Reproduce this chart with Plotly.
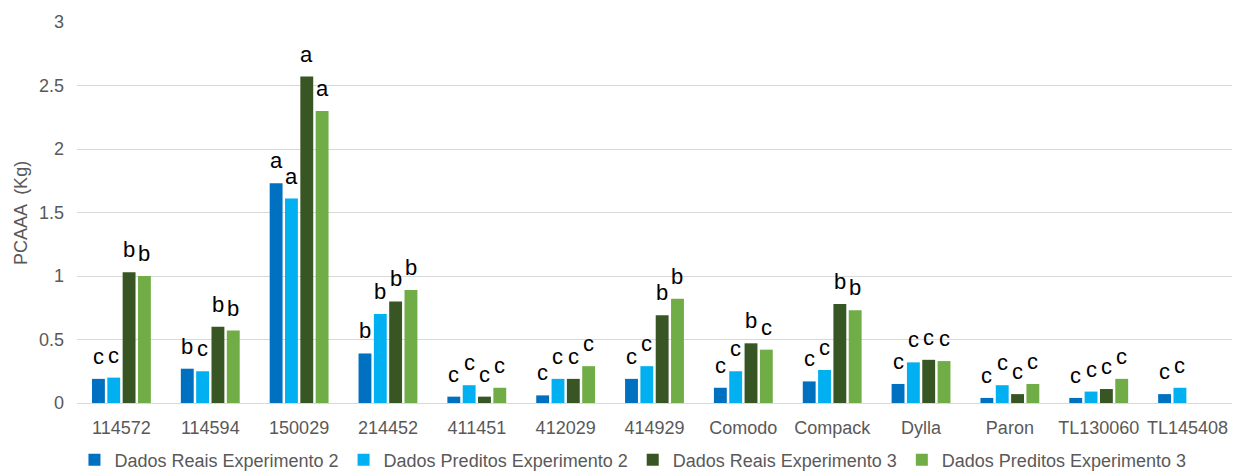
import plotly.graph_objects as go

# Genótipos avaliados
genotipos = ["114572", "114594", "150029", "214452", "411451", "412029", "414929",
             "Comodo", "Compack", "Dylla", "Paron", "TL130060", "TL145408"]

# PCAAA (Kg) por série
reais_exp2 = [0.19, 0.27, 1.73, 0.39, 0.05, 0.06, 0.19, 0.12, 0.17, 0.15, 0.04, 0.04, 0.07]
preditos_exp2 = [0.20, 0.25, 1.61, 0.70, 0.14, 0.19, 0.29, 0.25, 0.26, 0.32, 0.14, 0.09, 0.12]
reais_exp3 = [1.03, 0.60, 2.57, 0.80, 0.05, 0.19, 0.69, 0.47, 0.78, 0.34, 0.07, 0.11, None]
preditos_exp3 = [1.00, 0.57, 2.30, 0.89, 0.12, 0.29, 0.82, 0.42, 0.73, 0.33, 0.15, 0.19, None]

# Letras do teste de médias
letras_reais_exp2 = ["c", "b", "a", "b", "c", "c", "c", "c", "c", "c", "c", "c", "c"]
letras_preditos_exp2 = ["c", "c", "a", "b", "c", "c", "c", "c", "c", "c", "c", "c", "c"]
letras_reais_exp3 = ["b", "b", "a", "b", "c", "c", "b", "b", "b", "c", "c", "c", ""]
letras_preditos_exp3 = ["b", "b", "a", "b", "c", "c", "b", "c", "b", "c", "c", "c", ""]

y_ticks = [0, 0.5, 1, 1.5, 2, 2.5, 3]
y_titulo = "PCAAA  (Kg)"

series = [
    ("Dados Reais Experimento 2", reais_exp2, letras_reais_exp2, "#0070C0"),
    ("Dados Preditos Experimento 2", preditos_exp2, letras_preditos_exp2, "#00B0F0"),
    ("Dados Reais Experimento 3", reais_exp3, letras_reais_exp3, "#375623"),
    ("Dados Preditos Experimento 3", preditos_exp3, letras_preditos_exp3, "#70AD47"),
]

BARGAP = 0.31
BARGROUPGAP = 0.16
GRAY = "#595959"
FONT = "Liberation Sans, Arial, sans-serif"

fig = go.Figure()
annotations = []
n = len(series)
slot = (1 - BARGAP) / n
for k, (nome, valores, letras, cor) in enumerate(series):
    fig.add_trace(go.Bar(
        name=nome, x=genotipos, y=valores, marker=dict(color=cor, line=dict(width=0)),
        hoverinfo="x+y+name",
    ))
    for i, (v, l) in enumerate(zip(valores, letras)):
        if v is None or not l:
            continue
        annotations.append(dict(
            x=i + (k - (n - 1) / 2) * slot, y=v, xref="x", yref="y",
            text=l, showarrow=False, yanchor="bottom", yshift=8,
            font=dict(family=FONT, size=22, color="#000000"),
        ))

# Título do eixo Y, rotacionado à esquerda da área do gráfico
annotations.append(dict(
    text=y_titulo, textangle=-90, showarrow=False,
    xref="paper", yref="paper", x=-0.049, y=0.5,
    xanchor="center", yanchor="middle",
    font=dict(family=FONT, size=18, color=GRAY),
))

fig.update_layout(
    template="none",
    width=1241, height=471,
    margin=dict(l=77, r=9, t=22, b=68, autoexpand=False),
    paper_bgcolor="white", plot_bgcolor="white",
    barmode="group", bargap=BARGAP, bargroupgap=BARGROUPGAP,
    font=dict(family=FONT, size=18, color=GRAY),
    annotations=annotations,
    legend=dict(
        orientation="h", x=0.06, xanchor="left",
        xref="container", yref="paper", y=-0.15, yanchor="middle",
        font=dict(family=FONT, size=18, color=GRAY),
        itemwidth=30, tracegroupgap=0, bgcolor="rgba(0,0,0,0)",
    ),
    xaxis=dict(
        type="category", categoryorder="array", categoryarray=genotipos,
        automargin=False, showgrid=False, showline=False, zeroline=False,
        ticks="", ticklabelstandoff=12,
        tickfont=dict(family=FONT, size=18, color=GRAY),
    ),
    yaxis=dict(
        automargin=False,
        range=[0, 3], tickvals=y_ticks, ticktext=[f"{t:g}" for t in y_ticks],
        showgrid=True, gridcolor="#d9d9d9", gridwidth=1,
        zeroline=True, zerolinecolor="#d9d9d9", zerolinewidth=1,
        showline=False, ticks="", ticklabelstandoff=12,
        tickfont=dict(family=FONT, size=18, color=GRAY),
    ),
)

fig.write_html("out.html")
